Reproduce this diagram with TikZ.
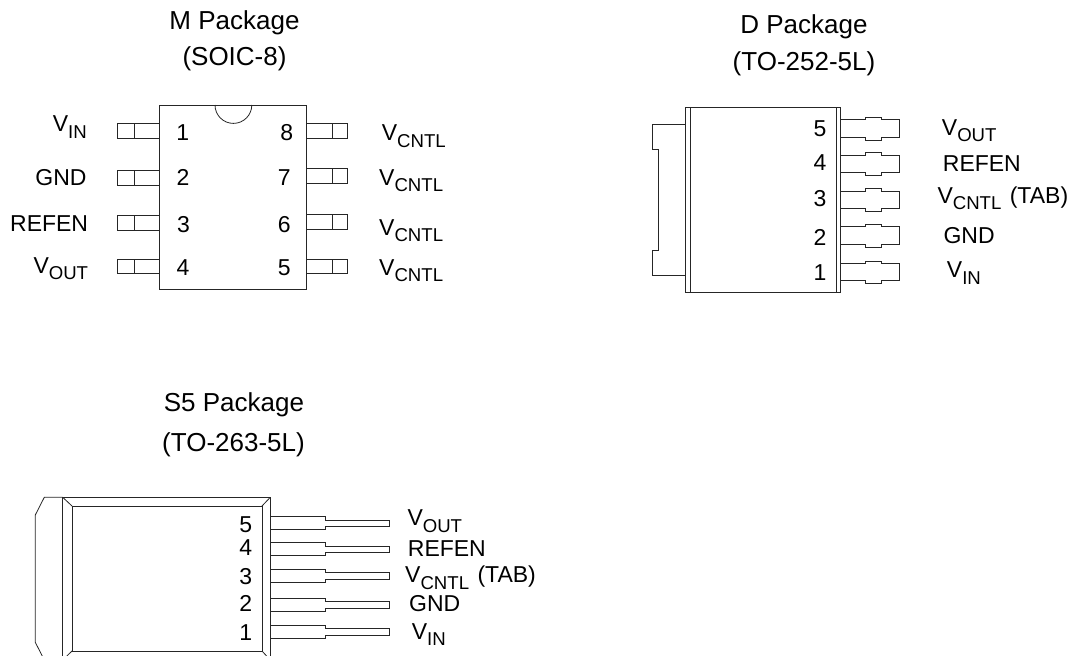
\documentclass[tikz,border=0pt]{standalone}
\usepackage{fontspec}
\setmainfont{Liberation Sans}
\newcommand{\pinsub}[1]{\raisebox{-6.6pt}{\fontsize{18.6}{19}\selectfont #1}}
\tikzset{
  pkg/.style={draw=black!85, line width=0.8pt},
  pinlabel/.style={anchor=base west, inner sep=0pt, font=\fontsize{23}{26}\selectfont},
  pinlabelr/.style={anchor=base east, inner sep=0pt, font=\fontsize{23}{26}\selectfont},
  pinnum/.style={anchor=base, inner sep=0pt, font=\fontsize{23}{26}\selectfont},
  title/.style={anchor=base, inner sep=0pt, font=\fontsize{26}{30}\selectfont}
}

\begin{document}
\begin{tikzpicture}[x=1pt, y=-1pt]
\useasboundingbox (0,0) rectangle (1077,656);
\clip (0,0) rectangle (1077,656);

% M package
\node[title] (mtitle) at (234.5, 29) {M Package};
\node[title] (msub) at (234.5, 65) {(SOIC-8)};
\draw[pkg] (159.5,105) rectangle (306.3,289.3);
\draw[pkg] (215,105) arc (180:0:18.4);
\draw[pkg] (159.5,123.3) -- (117.7,123.3) -- (117.7,138.3) -- (159.5,138.3);
\draw[pkg] (134,123.3) -- (134,138.3);
\draw[pkg] (159.5,170) -- (117.7,170) -- (117.7,185) -- (159.5,185);
\draw[pkg] (134,170) -- (134,185);
\draw[pkg] (159.5,215.7) -- (117.7,215.7) -- (117.7,230.3) -- (159.5,230.3);
\draw[pkg] (134,215.7) -- (134,230.3);
\draw[pkg] (159.5,259) -- (117.7,259) -- (117.7,273.7) -- (159.5,273.7);
\draw[pkg] (134,259) -- (134,273.7);
\draw[pkg] (306.3,123.3) -- (347.7,123.3) -- (347.7,138.3) -- (306.3,138.3);
\draw[pkg] (332.3,123.3) -- (332.3,138.3);
\draw[pkg] (306.3,168.3) -- (347.7,168.3) -- (347.7,183.3) -- (306.3,183.3);
\draw[pkg] (332.3,168.3) -- (332.3,183.3);
\draw[pkg] (306.3,214.3) -- (347.7,214.3) -- (347.7,229) -- (306.3,229);
\draw[pkg] (332.3,214.3) -- (332.3,229);
\draw[pkg] (306.3,259) -- (347.7,259) -- (347.7,273.7) -- (306.3,273.7);
\draw[pkg] (332.3,259) -- (332.3,273.7);
\node[pinnum] (m1) at (182.7,140) {1};
\node[pinnum] (m2) at (183,185) {2};
\node[pinnum] (m3) at (183.5,232.3) {3};
\node[pinnum] (m4) at (183,275) {4};
\node[pinnum] (m8) at (286.7,140) {8};
\node[pinnum] (m7) at (284.3,185) {7};
\node[pinnum] (m6) at (284.3,232.3) {6};
\node[pinnum] (m5) at (284.3,275) {5};
\node[pinlabel] (mvin) at (52.7,131.7) {V\pinsub{IN}};
\node[pinlabelr] (mgnd) at (86.7,185) {GND};
\node[pinlabelr] (mrefen) at (88.3,231.7) {REFEN};
\node[pinlabel] (mvout) at (33.3,273) {V\pinsub{OUT}};
\node[pinlabel] (mcntla) at (381.7,140.7) {V\pinsub{CNTL}};
\node[pinlabel] (mcntlb) at (379,185) {V\pinsub{CNTL}};
\node[pinlabel] (mcntlc) at (379,235) {V\pinsub{CNTL}};
\node[pinlabel] (mcntld) at (379,275) {V\pinsub{CNTL}};

% D package
\node[title] (dtitle) at (804, 33) {D Package};
\node[title] (dsub) at (804, 70.7) {(TO-252-5L)};
\draw[pkg] (685,107.7) rectangle (840.7,292.3);
\draw[pkg] (690.3,107.7) -- (690.3,292.3);
\draw[pkg] (836.3,107.7) -- (836.3,292.3);
\draw[pkg] (685,124.3) -- (652.3,124.3) -- (652.3,149.3) -- (658.3,149.3) -- (658.3,250.7) -- (652.3,250.7) -- (652.3,275.7) -- (685,275.7);
\draw[pkg] (840.7,119.7) -- (865,119.7) -- (865,117.7) -- (881.7,117.7) -- (881.7,119.7) -- (899.3,119.7) -- (899.3,137.3) -- (881.7,137.3) -- (881.7,140) -- (865,140) -- (865,137.3) -- (840.7,137.3);
\draw[pkg] (840.7,155) -- (865,155) -- (865,152.7) -- (881.7,152.7) -- (881.7,155) -- (899.3,155) -- (899.3,172) -- (881.7,172) -- (881.7,175) -- (865,175) -- (865,172) -- (840.7,172);
\draw[pkg] (840.7,191) -- (865,191) -- (865,188.7) -- (881.7,188.7) -- (881.7,191) -- (899.3,191) -- (899.3,208.3) -- (881.7,208.3) -- (881.7,211) -- (865,211) -- (865,208.3) -- (840.7,208.3);
\draw[pkg] (840.7,226.7) -- (865,226.7) -- (865,224.7) -- (881.7,224.7) -- (881.7,226.7) -- (899.3,226.7) -- (899.3,244.3) -- (881.7,244.3) -- (881.7,247) -- (865,247) -- (865,244.3) -- (840.7,244.3);
\draw[pkg] (840.7,263.3) -- (865,263.3) -- (865,261) -- (881.7,261) -- (881.7,263.3) -- (899.3,263.3) -- (899.3,280.7) -- (881.7,280.7) -- (881.7,283) -- (865,283) -- (865,280.7) -- (840.7,280.7);
\node[pinnum] (d5) at (820,136.7) {5};
\node[pinnum] (d4) at (820,170) {4};
\node[pinnum] (d3) at (820,206.7) {3};
\node[pinnum] (d2) at (820,245) {2};
\node[pinnum] (d1) at (820,280) {1};
\node[pinlabel] (dvout) at (941.7,135) {V\pinsub{OUT}};
\node[pinlabel] (drefen) at (942.7,171.7) {REFEN};
\node[pinlabel] (dcntl) at (937.3,203) {V\pinsub{CNTL}\kern2pt{} (TAB)};
\node[pinlabel] (dgnd) at (943.3,243.3) {GND};
\node[pinlabel] (dvin) at (946.7,277.7) {V\pinsub{IN}};

% S5 package
\node[title] (stitle) at (234, 411) {S5 Package};
\node[title] (ssub) at (233.5, 451) {(TO-263-5L)};
\draw[pkg] (62.7,497.3) rectangle (270.3,660);
\draw[pkg] (72,506) rectangle (262,651);
\draw[pkg] (62.7,497.3) -- (72,506);
\draw[pkg] (270.3,497.3) -- (262,506);
\draw[pkg] (62.7,660) -- (72,651);
\draw[pkg] (270.3,660) -- (262,651);
\draw[pkg] (62.7,497.3) -- (44.3,497.3) -- (35.3,515) -- (35.3,642.3) -- (44.3,660) -- (62.7,660);
\draw[pkg] (270.3,516.7) -- (325,516.7) -- (325,520) -- (389.3,520) -- (389.3,526.7) -- (325,526.7) -- (325,529.3) -- (270.3,529.3);
\draw[pkg] (270.3,542.7) -- (325,542.7) -- (325,546) -- (389.3,546) -- (389.3,552.7) -- (325,552.7) -- (325,555.7) -- (270.3,555.7);
\draw[pkg] (270.3,569.3) -- (325,569.3) -- (325,572.5) -- (389.3,572.5) -- (389.3,579.2) -- (325,579.2) -- (325,582.3) -- (270.3,582.3);
\draw[pkg] (270.3,598.3) -- (325,598.3) -- (325,601.5) -- (389.3,601.5) -- (389.3,608.2) -- (325,608.2) -- (325,611.3) -- (270.3,611.3);
\draw[pkg] (270.3,625.7) -- (325,625.7) -- (325,628.7) -- (389.3,628.7) -- (389.3,635.3) -- (325,635.3) -- (325,638.3) -- (270.3,638.3);
\node[pinnum] (s5) at (245.7,532.7) {5};
\node[pinnum] (s4) at (245.7,555.7) {4};
\node[pinnum] (s3) at (245.7,584) {3};
\node[pinnum] (s2) at (245.7,611.7) {2};
\node[pinnum] (s1) at (245.7,640.7) {1};
\node[pinlabel] (svout) at (407.3,525.7) {V\pinsub{OUT}};
\node[pinlabel] (srefen) at (407.7,556) {REFEN};
\node[pinlabel] (scntl) at (405,582.7) {V\pinsub{CNTL}\kern2pt{} (TAB)};
\node[pinlabel] (sgnd) at (409,611.7) {GND};
\node[pinlabel] (svin) at (411.7,639) {V\pinsub{IN}};

\end{tikzpicture}
\end{document}
